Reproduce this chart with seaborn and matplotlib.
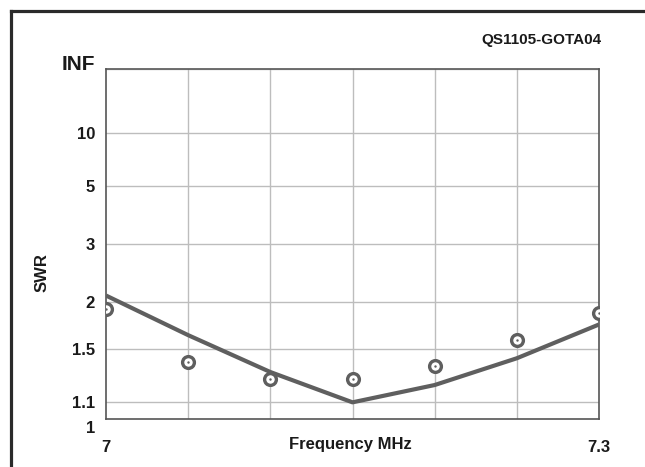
import numpy as np
import pandas as pd
import matplotlib
matplotlib.use("Agg")
import matplotlib.pyplot as plt
from matplotlib.lines import Line2D
import matplotlib.transforms as mtransforms
import seaborn as sns

# ---- data ----
freq = [7.00, 7.05, 7.10, 7.15, 7.20, 7.25, 7.30]
swr_model = [2.09, 1.63, 1.31, 1.10, 1.215, 1.42, 1.74]
swr_measured = [1.92, 1.39, 1.26, 1.255, 1.36, 1.58, 1.865]
ytick_vals = [1, 1.1, 1.5, 2, 3, 5, 10, 1e9]
ytick_labels = ["1", "1.1", "1.5", "2", "3", "5", "10", "INF"]
xgrid = [7.05, 7.10, 7.15, 7.20, 7.25]
xtick_vals = [7.0, 7.3]
xtick_labels = ["7", "7.3"]

sns.set_theme(style="white")
plt.rcParams['font.family'] = ['Liberation Sans', 'DejaVu Sans']

fig = plt.figure(figsize=(6.45, 4.67), dpi=100)
ax = fig.add_axes([106/645, 1-419/467, (599-106)/645, (419-69)/467])


def fwd(s):
    s = np.asarray(s, dtype=float)
    with np.errstate(divide='ignore', invalid='ignore'):
        r = (s - 1.0) / (s + 1.0)
    return np.where(np.isfinite(r), r, 1.0)


def inv(r):
    r = np.asarray(r, dtype=float)
    with np.errstate(divide='ignore', invalid='ignore'):
        s = (1.0 + r) / (1.0 - r)
    return np.where(np.isfinite(s), s, 1e12)


ax.set_yscale('function', functions=(fwd, inv))

df_m = pd.DataFrame({"f": freq, "swr": swr_model})
df_d = pd.DataFrame({"f": freq, "swr": swr_measured})

grey = "#5f5f5f"
txt = "#1a1a1a"
sns.lineplot(data=df_m, x="f", y="swr", ax=ax, color=grey, lw=3.0,
             solid_capstyle="butt", zorder=3)
sns.scatterplot(data=df_d, x="f", y="swr", ax=ax, marker="o", s=72,
                facecolor="white", edgecolor=grey, linewidth=2.4, zorder=4)
sns.scatterplot(data=df_d, x="f", y="swr", ax=ax, marker="o", s=3,
                color=grey, edgecolor=grey, linewidth=0, zorder=5)

ax.set_xlim(7.0, 7.3)
ax.set_ylim(1, 1e9)

# grid
for g in xgrid:
    ax.axvline(g, color="#bdbdbd", lw=1.0, zorder=1)
for g in ytick_vals[1:-1]:
    ax.axhline(g, color="#bdbdbd", lw=1.0, zorder=1)

ax.set_yticks(ytick_vals)
ax.set_yticklabels(ytick_labels, fontweight="bold")
ax.set_xticks(xtick_vals)
ax.set_xticklabels(xtick_labels, fontweight="bold")
ax.tick_params(axis='both', length=0, labelsize=12, colors=txt)
ax.tick_params(axis='y', pad=8)
ax.tick_params(axis='x', pad=15)

# shift "1" label down a bit, INF up a bit and larger
for lab in ax.get_yticklabels():
    if lab.get_text() == "1":
        lab.set_transform(lab.get_transform() +
                          mtransforms.ScaledTranslation(0, -8/100, fig.dpi_scale_trans))
    if lab.get_text() == "INF":
        lab.set_fontsize(15)
        lab.set_transform(lab.get_transform() +
                          mtransforms.ScaledTranslation(0, 6/100, fig.dpi_scale_trans))

ax.set_xlabel("Frequency MHz", fontsize=12, color=txt, fontweight="bold")
ax.xaxis.set_label_coords((350-106)/493, (419-445)/350)
ax.xaxis.label.set_va("center")
ax.set_ylabel("SWR", fontsize=12, color=txt, fontweight="bold")
ax.yaxis.set_label_coords((42-106)/493, (419-273)/350)
ax.yaxis.label.set_va("center")

for sp in ax.spines.values():
    sp.set_color("#555555")
    sp.set_linewidth(1.2)
    sp.set_visible(True)

fig.text(601/645, 1-40/467, "QS1105-GOTA04", ha="right", va="center",
         fontsize=11, fontweight="bold", color=txt)

# outer frame (top and left edges)
fig.add_artist(Line2D([10.5/645, 1.0], [1-10.5/467, 1-10.5/467],
                      transform=fig.transFigure, color="#2a2a2a", lw=2.3,
                      solid_capstyle="projecting"))
fig.add_artist(Line2D([10.5/645, 10.5/645], [1-10.5/467, 0.0],
                      transform=fig.transFigure, color="#2a2a2a", lw=2.3,
                      solid_capstyle="projecting"))

fig.savefig("out.png", dpi=100)
